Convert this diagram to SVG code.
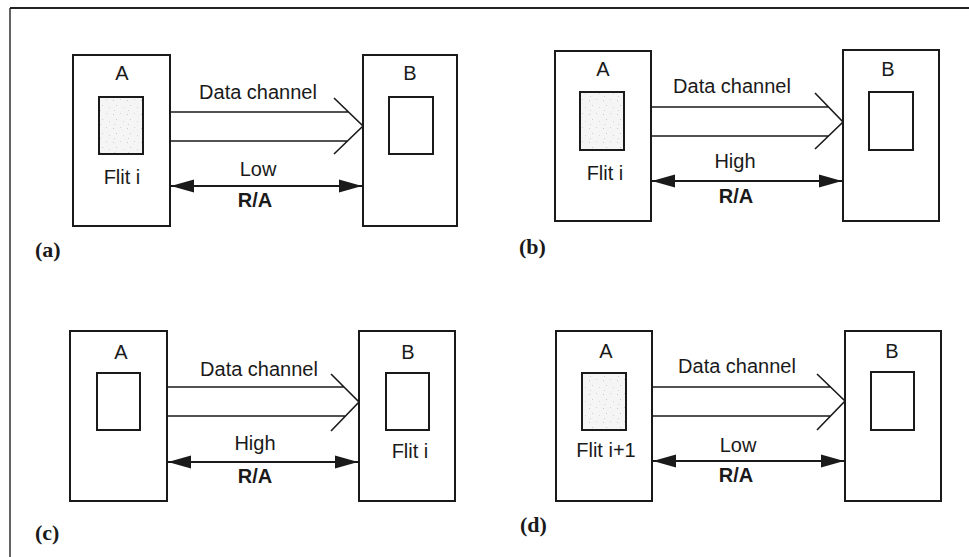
<svg xmlns="http://www.w3.org/2000/svg" width="969" height="557" viewBox="0 0 969 557">
  <style>
    .box { fill: #ffffff; stroke: #1a1a1a; stroke-width: 2; }
    .buf { fill: #ffffff; stroke: #1a1a1a; stroke-width: 2; }
    .buf.full { fill: url(#grain); }
    .wire { fill: none; stroke: #1a1a1a; stroke-width: 1.6; }
    .ra { fill: none; stroke: #1a1a1a; stroke-width: 1.8; marker-start: url(#headL); marker-end: url(#headR); }
    .t { font-family: "Liberation Sans", Arial, sans-serif; font-size: 20px; fill: #1a1a1a; text-anchor: middle; }
    .tb { font-family: "Liberation Sans", Arial, sans-serif; font-size: 20px; font-weight: bold; fill: #1a1a1a; text-anchor: middle; }
    .cap { font-family: "Liberation Serif", "Times New Roman", serif; font-size: 22px; font-weight: bold; fill: #1a1a1a; }
    .frame { fill: none; stroke: #222222; }
  </style>
  <defs>
    <!-- speckled light grey fill for an occupied flit buffer -->
    <pattern id="grain" width="14" height="14" patternUnits="userSpaceOnUse">
      <rect width="14" height="14" fill="#f5f5f5"/>
      <rect x="1" y="2" width="1" height="1" fill="#c8c8c8"/>
      <rect x="8" y="1" width="1" height="1" fill="#d4d4d4"/>
      <rect x="4" y="7" width="1" height="1" fill="#cdcdcd"/>
      <rect x="11" y="9" width="1" height="1" fill="#d8d8d8"/>
      <rect x="2" y="12" width="1" height="1" fill="#d2d2d2"/>
    </pattern>
    <marker id="headR" markerUnits="userSpaceOnUse" markerWidth="24" markerHeight="14" refX="23" refY="7" orient="auto" overflow="visible">
      <path d="M0,0.5 L23,7 L0,13.5 Z" fill="#1a1a1a"/>
    </marker>
    <marker id="headL" markerUnits="userSpaceOnUse" markerWidth="24" markerHeight="14" refX="0" refY="7" orient="auto" overflow="visible">
      <path d="M23,0.5 L0,7 L23,13.5 Z" fill="#1a1a1a"/>
    </marker>
  </defs>

  <rect width="969" height="557" fill="#ffffff"/>

  <!-- outer frame: top rule and left rule -->
  <line class="frame" x1="10" y1="8" x2="969" y2="8" stroke-width="2"/>
  <line class="frame" x1="10" y1="8" x2="10" y2="557" stroke-width="1.4"/>

  <!-- ===== (a) ===== -->
  <g id="a-A">
    <rect class="box" x="73" y="55" width="97" height="171"/>
    <text class="t" x="122" y="80">A</text>
    <rect class="buf full" x="99" y="97" width="44" height="57"/>
    <text class="t" x="122" y="184">Flit i</text>
  </g>
  <g id="a-B">
    <rect class="box" x="363" y="55" width="94" height="171"/>
    <text class="t" x="410" y="80">B</text>
    <rect class="buf" x="389" y="97" width="44" height="57"/>
  </g>
  <g id="a-links">
    <path class="wire" d="M170,112 H349 M170,141 H348 M334,98 L363,126 L334,154"/>
    <text class="t" x="258" y="99">Data channel</text>
    <line class="ra" x1="171" y1="186" x2="362" y2="186"/>
    <text class="t" x="258" y="176">Low</text>
    <text class="tb" x="255" y="207">R/A</text>
  </g>
  <text class="cap" x="35" y="257">(a)</text>

  <!-- ===== (b) ===== -->
  <g id="b-A">
    <rect class="box" x="555" y="51" width="96" height="170"/>
    <text class="t" x="603" y="76">A</text>
    <rect class="buf full" x="580" y="92" width="44" height="58"/>
    <text class="t" x="605" y="180">Flit i</text>
  </g>
  <g id="b-B">
    <rect class="box" x="843" y="50" width="96" height="171"/>
    <text class="t" x="888" y="76">B</text>
    <rect class="buf" x="869" y="92" width="44" height="58"/>
  </g>
  <g id="b-links">
    <path class="wire" d="M651,107 H829 M651,136 H829 M815,93 L843,122 L815,149"/>
    <text class="t" x="732" y="93">Data channel</text>
    <line class="ra" x1="652" y1="181" x2="842" y2="181"/>
    <text class="t" x="735" y="168">High</text>
    <text class="tb" x="736" y="203">R/A</text>
  </g>
  <text class="cap" x="519" y="254">(b)</text>

  <!-- ===== (c) ===== -->
  <g id="c-A">
    <rect class="box" x="70" y="331" width="97" height="170"/>
    <text class="t" x="121" y="359">A</text>
    <rect class="buf" x="97" y="373" width="43" height="57"/>
  </g>
  <g id="c-B">
    <rect class="box" x="359" y="331" width="96" height="170"/>
    <text class="t" x="408" y="359">B</text>
    <rect class="buf" x="386" y="373" width="43" height="57"/>
    <text class="t" x="410" y="458">Flit i</text>
  </g>
  <g id="c-links">
    <path class="wire" d="M167,387 H344 M167,416 H345 M331,374 L359,402 L331,431"/>
    <text class="t" x="259" y="376">Data channel</text>
    <line class="ra" x1="168" y1="462" x2="358" y2="462"/>
    <text class="t" x="255" y="450">High</text>
    <text class="tb" x="255" y="483">R/A</text>
  </g>
  <text class="cap" x="35" y="540">(c)</text>

  <!-- ===== (d) ===== -->
  <g id="d-A">
    <rect class="box" x="556" y="331" width="96" height="170"/>
    <text class="t" x="606" y="358">A</text>
    <rect class="buf full" x="582" y="373" width="44" height="57"/>
    <text class="t" x="606" y="457">Flit i+1</text>
  </g>
  <g id="d-B">
    <rect class="box" x="845" y="331" width="96" height="170"/>
    <text class="t" x="892" y="358">B</text>
    <rect class="buf" x="871" y="372" width="43" height="58"/>
  </g>
  <g id="d-links">
    <path class="wire" d="M652,387 H830 M652,416 H831 M817,374 L845,401 L817,430"/>
    <text class="t" x="737" y="373">Data channel</text>
    <line class="ra" x1="653" y1="461" x2="844" y2="461"/>
    <text class="t" x="738" y="452">Low</text>
    <text class="tb" x="736" y="482">R/A</text>
  </g>
  <text class="cap" x="520" y="532">(d)</text>
</svg>
